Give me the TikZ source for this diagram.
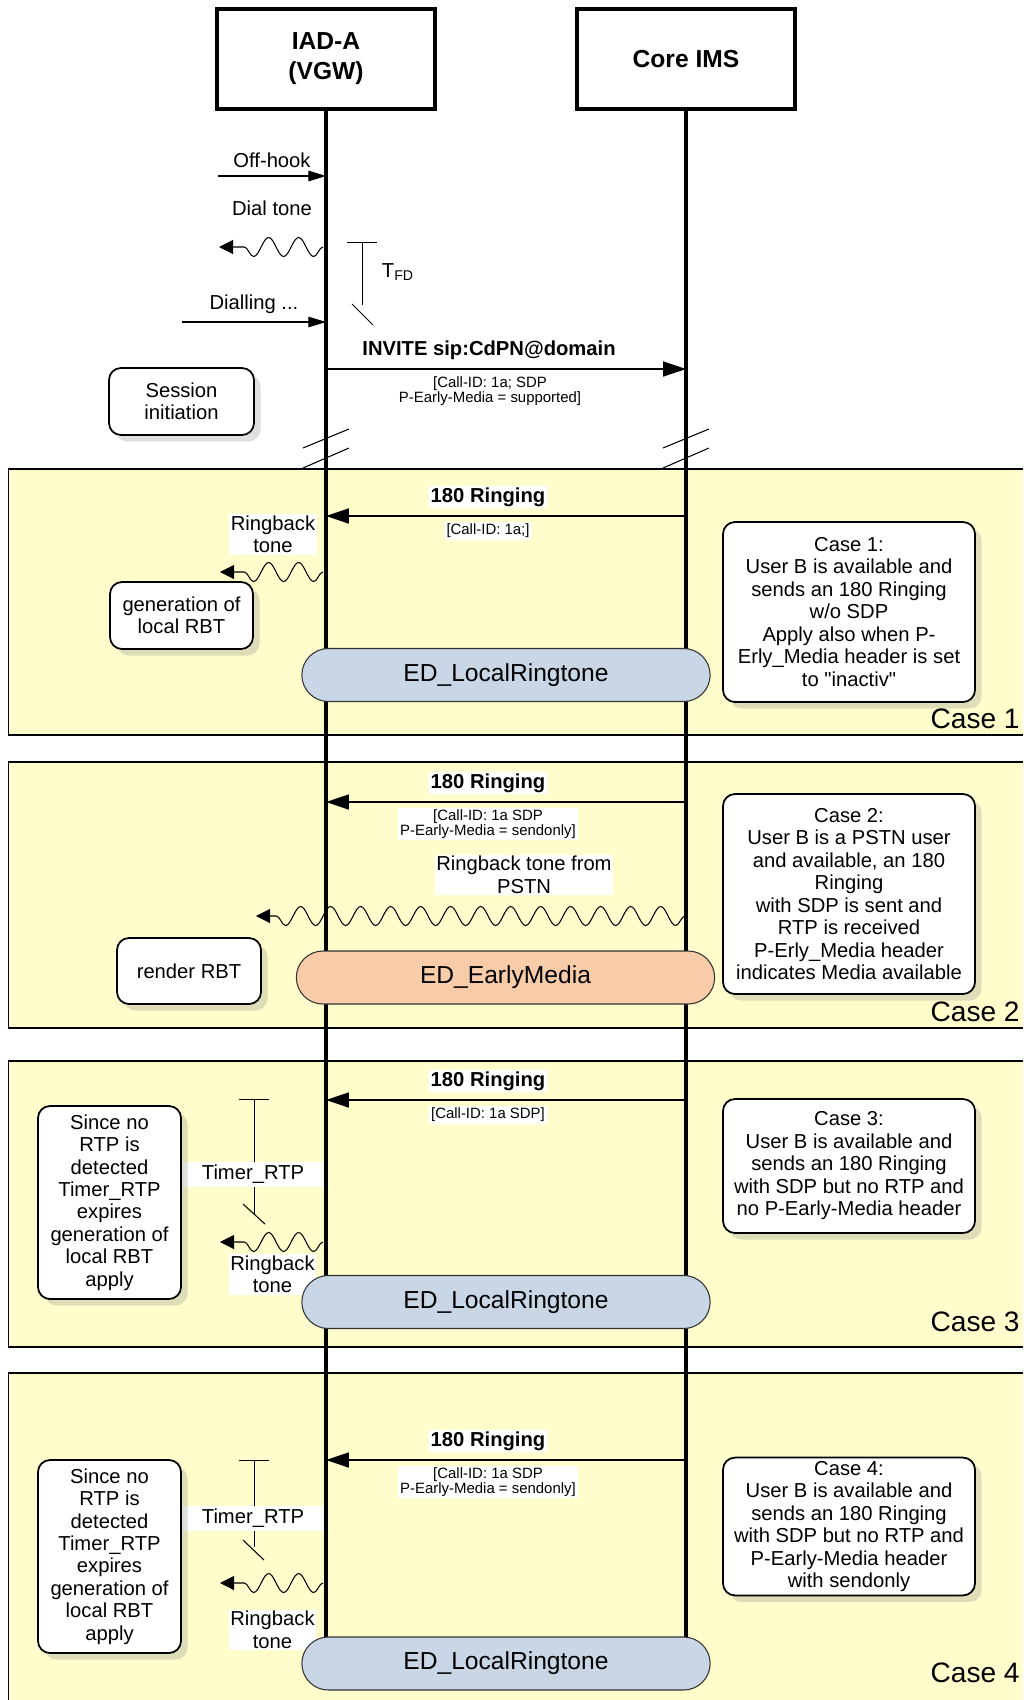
\documentclass[tikz,border=0pt]{standalone}
\usepackage{fontspec}
\setmainfont{Liberation Sans}
\usepackage{tikz}
\usetikzlibrary{positioning,shapes.misc,arrows.meta,decorations.pathmorphing,shadows}
\definecolor{casebg}{HTML}{FFFDCC}
\definecolor{edblue}{HTML}{C8D6E6}
\definecolor{edpeach}{HTML}{F8CBA9}
\tikzset{
  entity/.style={draw, line width=2pt, minimum width=4.36cm, minimum height=2cm, align=center, font=\fontsize{14}{17}\selectfont\bfseries},
  lifeline/.style={line width=2pt},
  msg/.style={-{Triangle[length=13pt,width=8.5pt]}, line width=1pt},
  localsig/.style={-{Triangle[length=10pt,width=6pt]}, line width=0.6pt},
  tone/.style={decorate, decoration={snake, amplitude=0.19cm, segment length=0.6cm, post length=0.25cm}, -{Triangle[length=8pt,width=8pt]}, line width=0.6pt},
  msglbl/.style={fill=white, inner sep=1pt, font=\fontsize{11.5}{12.8}\selectfont\bfseries},
  sublbl/.style={fill=white, inner sep=1pt, align=center, font=\fontsize{8.5}{8.2}\selectfont},
  lbl/.style={align=center, font=\fontsize{11.5}{12.8}\selectfont},
  lblbg/.style={lbl, fill=white, inner sep=1pt},
  action/.style={draw, rounded corners=0.24cm, fill=white, line width=1pt, align=center, inner sep=2pt, font=\fontsize{11.5}{12.8}\selectfont, drop shadow={shadow xshift=0.13cm, shadow yshift=-0.13cm, opacity=0.25}},
  note/.style={action, minimum width=5.04cm},
  edstate/.style={draw=black!80, rounded rectangle, minimum width=8.4cm, minimum height=1.06cm, font=\fontsize{14}{17}\selectfont, line width=0.6pt},
  caseline/.style={line width=1pt},
  caselbl/.style={anchor=east, inner sep=0pt, font=\fontsize{16}{19}\selectfont},
  timer/.style={{Bar[width=0.6cm]}-, line width=0.5pt},
  breakmark/.style={line width=0.6pt}
}

\begin{document}
\begin{tikzpicture}
  \useasboundingbox (0,0) rectangle (20.46,-34);

  % case areas
  \fill[casebg] (0.17,-9.38) rectangle (20.46,-14.70);
  \draw[caseline] (20.46,-9.38) -- (0.17,-9.38) -- (0.17,-14.70) -- (20.46,-14.70);
  \fill[casebg] (0.17,-15.24) rectangle (20.46,-20.56);
  \draw[caseline] (20.46,-15.24) -- (0.17,-15.24) -- (0.17,-20.56) -- (20.46,-20.56);
  \fill[casebg] (0.17,-21.22) rectangle (20.46,-26.94);
  \draw[caseline] (20.46,-21.22) -- (0.17,-21.22) -- (0.17,-26.94) -- (20.46,-26.94);
  \fill[casebg] (0.17,-27.46) rectangle (20.46,-34);
  \draw[caseline] (20.46,-27.46) -- (0.17,-27.46) -- (0.17,-34);

  \node[entity] (iad) at (6.52,-1.18) {IAD-A\\(VGW)};
  \node[entity] (core) at (13.72,-1.18) {Core IMS};

  \coordinate (aend) at (6.52,-33.3);
  \coordinate (bend) at (13.72,-33.3);
  \draw[lifeline] (iad.south) -- (aend);
  \draw[lifeline] (core.south) -- (bend);

  \draw[breakmark] (6.06,-8.96) -- (6.98,-8.58);
  \draw[breakmark] (6.06,-9.36) -- (6.98,-8.96);
  \draw[breakmark] (13.26,-8.96) -- (14.18,-8.58);
  \draw[breakmark] (13.26,-9.36) -- (14.18,-8.96);

  % session initiation
  \coordinate (offL) at (4.36,-3.52);
  \coordinate (offA) at (6.52,-3.52);
  \draw[localsig] (offL) -- node[lbl, above=1pt] (offlbl) {Off-hook} (offA);
  \node[lbl] (dtlbl) at (5.44,-4.16) {Dial tone};
  \coordinate (dtA) at (6.46,-4.94);
  \coordinate (dtL) at (4.38,-4.94);
  \draw[tone] (dtA) -- (dtL);
  \coordinate (tfdT) at (7.24,-4.84);
  \coordinate (tfdB) at (7.24,-6.10);
  \draw[timer] (tfdT) -- (tfdB);
  \draw[breakmark] (7.04,-6.08) -- (7.46,-6.50);
  \node[lbl] (tfd) at (7.96,-5.44) {T\textsubscript{FD}};
  \coordinate (dlL) at (3.64,-6.44);
  \coordinate (dlA) at (6.52,-6.44);
  \draw[localsig] (dlL) -- node[lbl, above=1pt] (dllbl) {Dialling ...} (dlA);
  \coordinate (invA) at (6.52,-7.38);
  \coordinate (invB) at (13.72,-7.38);
  \draw[msg] (invA) -- node[msglbl, above=4pt, xshift=-0.34cm, fill=none] (invlbl) {INVITE sip:CdPN@domain}
    node[sublbl, below=3pt, xshift=-0.32cm] (invsub) {[Call-ID: 1a; SDP\\P-Early-Media = supported]} (invB);
  \node[action, minimum width=2.9cm, minimum height=1.34cm] (sess) at (3.63,-8.03) {Session\\initiation};

  % case 1
  \coordinate (r1B) at (13.72,-10.32);
  \coordinate (r1A) at (6.52,-10.32);
  \draw[msg] (r1B) -- node[msglbl, above=4pt, xshift=-0.36cm] (r1lbl) {180 Ringing}
    node[sublbl, below=3pt, xshift=-0.36cm] (r1sub) {[Call-ID: 1a;]} (r1A);
  \node[lblbg] (rbt1) at (5.46,-10.69) {Ringback\\tone};
  \coordinate (rb1A) at (6.46,-11.44);
  \coordinate (rb1L) at (4.40,-11.44);
  \draw[tone] (rb1A) -- (rb1L);
  \node[action, minimum width=2.86cm, minimum height=1.34cm] (gen1) at (3.63,-12.31) {generation of\\local RBT};
  \node[edstate, fill=edblue] (ed1) at (10.12,-13.50) {ED\_LocalRingtone};
  \node[note, minimum height=3.6cm] (note1) at (16.98,-12.24) {Case 1:\\User B is available and\\sends an 180 Ringing\\w/o SDP\\Apply also when P-\\Erly\_Media header is set\\to \textquotedbl inactiv\textquotedbl};
  \node[caselbl] (case1) at (20.40,-14.38) {Case 1};

  % case 2
  \coordinate (r2B) at (13.72,-16.04);
  \coordinate (r2A) at (6.52,-16.04);
  \draw[msg] (r2B) -- node[msglbl, above=4pt, xshift=-0.36cm] (r2lbl) {180 Ringing}
    node[sublbl, below=3pt, xshift=-0.36cm] (r2sub) {[Call-ID: 1a SDP\\P-Early-Media = sendonly]} (r2A);
  \node[lblbg, minimum width=3.54cm] (pstnlbl) at (10.48,-17.50) {Ringback tone from\\PSTN};
  \coordinate (pstnB) at (13.70,-18.32);
  \coordinate (pstnL) at (5.12,-18.32);
  \draw[tone] (pstnB) -- (pstnL);
  \node[action, minimum width=2.88cm, minimum height=1.32cm] (render) at (3.78,-19.42) {render RBT};
  \node[edstate, fill=edpeach, minimum width=8.6cm] (ed2) at (10.11,-19.55) {ED\_EarlyMedia};
  \node[note, minimum height=4.0cm] (note2) at (16.98,-17.88) {Case 2:\\User B is a PSTN user\\and available, an 180\\Ringing\\with SDP is sent and\\RTP is received\\P-Erly\_Media header\\indicates Media available};
  \node[caselbl] (case2) at (20.40,-20.24) {Case 2};

  % case 3
  \coordinate (r3B) at (13.72,-22.00);
  \coordinate (r3A) at (6.52,-22.00);
  \draw[msg] (r3B) -- node[msglbl, above=4pt, xshift=-0.36cm] (r3lbl) {180 Ringing}
    node[sublbl, below=3pt, xshift=-0.36cm] (r3sub) {[Call-ID: 1a SDP]} (r3A);
  \coordinate (t3T) at (5.08,-21.98);
  \coordinate (t3B) at (5.08,-24.30);
  \draw[timer] (t3T) -- (t3B);
  \draw[breakmark] (4.86,-24.08) -- (5.30,-24.48);
  \node[lblbg, minimum width=2.8cm, minimum height=0.5cm] (tim3) at (5.06,-23.49) {Timer\_RTP};
  \coordinate (rb3A) at (6.46,-24.84);
  \coordinate (rb3L) at (4.40,-24.84);
  \draw[tone] (rb3A) -- (rb3L);
  \node[lblbg] (rbt3) at (5.45,-25.49) {Ringback\\tone};
  \node[action, minimum width=2.86cm, minimum height=3.86cm] (since3) at (2.19,-24.05) {Since no\\RTP is\\detected\\Timer\_RTP\\expires\\generation of\\local RBT\\apply};
  \node[edstate, fill=edblue] (ed3) at (10.12,-26.04) {ED\_LocalRingtone};
  \node[note, minimum height=2.68cm] (note3) at (16.98,-23.32) {Case 3:\\User B is available and\\sends an 180 Ringing\\with SDP but no RTP and\\no P-Early-Media header};
  \node[caselbl] (case3) at (20.40,-26.44) {Case 3};

  % case 4
  \coordinate (r4B) at (13.72,-29.20);
  \coordinate (r4A) at (6.52,-29.20);
  \draw[msg] (r4B) -- node[msglbl, above=4pt, xshift=-0.36cm] (r4lbl) {180 Ringing}
    node[sublbl, below=3pt, xshift=-0.36cm] (r4sub) {[Call-ID: 1a SDP\\P-Early-Media = sendonly]} (r4A);
  \coordinate (t4T) at (5.08,-29.20);
  \coordinate (t4B) at (5.08,-30.94);
  \draw[timer] (t4T) -- (t4B);
  \draw[breakmark] (4.86,-30.80) -- (5.28,-31.20);
  \node[lblbg, minimum width=2.8cm, minimum height=0.5cm] (tim4) at (5.06,-30.37) {Timer\_RTP};
  \coordinate (rb4A) at (6.46,-31.66);
  \coordinate (rb4L) at (4.40,-31.66);
  \draw[tone] (rb4A) -- (rb4L);
  \node[lblbg] (rbt4) at (5.45,-32.60) {Ringback\\tone};
  \node[action, minimum width=2.86cm, minimum height=3.86cm] (since4) at (2.19,-31.13) {Since no\\RTP is\\detected\\Timer\_RTP\\expires\\generation of\\local RBT\\apply};
  \node[edstate, fill=edblue] (ed4) at (10.12,-33.27) {ED\_LocalRingtone};
  \node[note, minimum height=2.66cm] (note4) at (16.98,-30.53) {Case 4:\\User B is available and\\sends an 180 Ringing\\with SDP but no RTP and\\P-Early-Media header\\with sendonly};
  \node[caselbl] (case4) at (20.40,-33.46) {Case 4};
\end{tikzpicture}
\end{document}
